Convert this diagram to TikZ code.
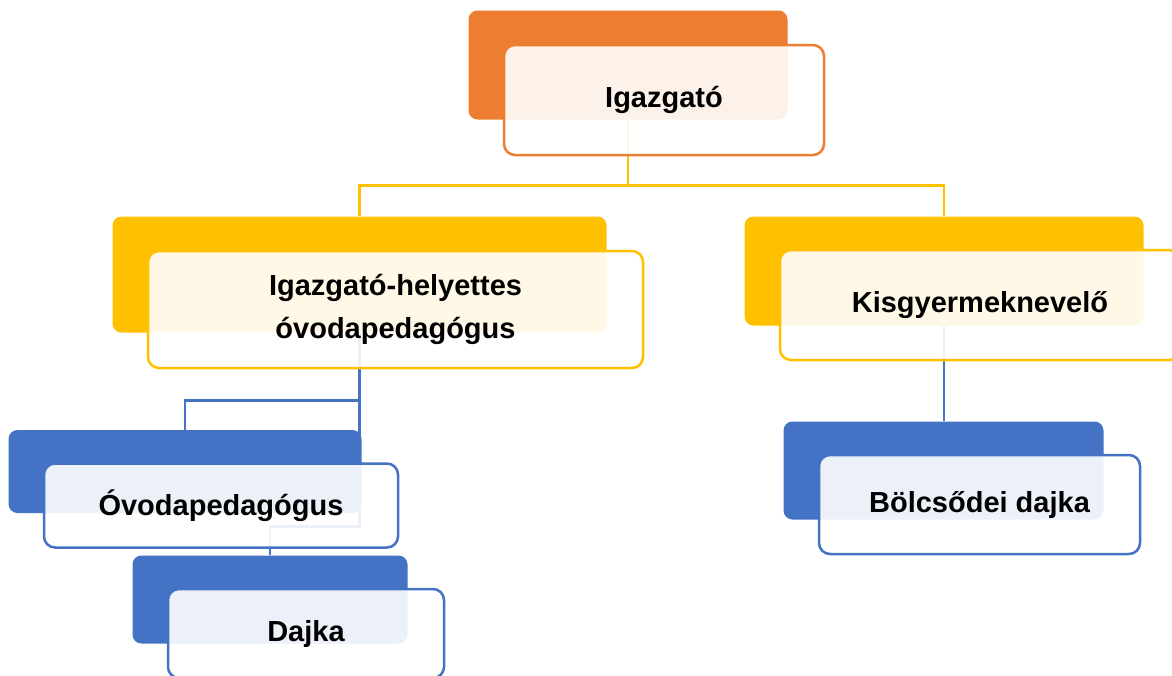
\documentclass[tikz,border=0pt]{standalone}
\usepackage{fontspec}
\setmainfont{Liberation Sans}
\usepackage{tikz}
\usetikzlibrary{positioning, backgrounds}

\definecolor{accorange}{HTML}{ED7D31}
\definecolor{accgold}{HTML}{FFC000}
\definecolor{accblue}{HTML}{4472C4}

\begin{document}
\begin{tikzpicture}[
        x=1pt, y=-1pt,
        backbox/.style={rectangle, rounded corners=9pt, fill=#1, draw=none, inner sep=0pt},
        frontbox/.style={rectangle, rounded corners=11pt, draw=#1, line width=2.5pt, fill=white, fill opacity=0.9, text opacity=1, inner sep=0pt, align=center, font=\fontsize{29}{43}\selectfont\bfseries},
        link/.style={line width=2.5pt}
    ]
    \clip (0,0) rectangle (1172,675);

    % Back boxes (solid colour)
    \node[backbox=accorange, minimum width=319pt, minimum height=109pt] (igB) at (628,65) {};
    \node[backbox=accgold, minimum width=494pt, minimum height=116pt] (dhB) at (359.5,274.5) {};
    \node[backbox=accgold, minimum width=399pt, minimum height=109pt] (kgB) at (944,271) {};
    \node[backbox=accblue, minimum width=353pt, minimum height=83pt] (opB) at (185,471.5) {};
    \node[backbox=accblue, minimum width=275pt, minimum height=88pt] (djB) at (270,599.5) {};
    \node[backbox=accblue, minimum width=320pt, minimum height=98pt] (bdB) at (943.5,470.5) {};

    % Front boxes with the texts
    \node[frontbox=accorange, minimum width=320pt, minimum height=110pt] (ig) at ([shift={(36,35)}]igB.center) {Igazgató};
    \node[frontbox=accgold, minimum width=495pt, minimum height=117pt] (dh) at ([shift={(36,35)}]dhB.center) {Igazgató-helyettes\\óvodapedagógus};
    \node[frontbox=accgold, minimum width=400pt, minimum height=110pt] (kg) at ([shift={(36,34)}]kgB.center) {Kisgyermeknevelő};
    \node[frontbox=accblue, minimum width=354pt, minimum height=84pt] (op) at ([shift={(36,34)}]opB.center) {Óvodapedagógus};
    \node[frontbox=accblue, minimum width=276pt, minimum height=89pt] (dj) at ([shift={(36,34)}]djB.center) {Dajka};
    \node[frontbox=accblue, minimum width=321pt, minimum height=99pt] (bd) at ([shift={(36,34)}]bdB.center) {Bölcsődei dajka};

    \begin{scope}[on background layer]
    % Connectors (level 1 to 2)
    \draw[link, accgold] (igB.south) -- ++(0,66) -| (dhB.north);
    \draw[link, accgold] (igB.south) -- ++(0,66) -| (kgB.north);

    % Connectors (level 2 to 3)
    \draw[link, accblue] (dhB.south) -- ++(0,68) -| (opB.north);
    \draw[link, accblue] (dhB.south) -- ++(0,194) -| (djB.north);
    \draw[link, accblue] (kgB.south) -- (kgB.south |- bdB.north);
    \end{scope}

\end{tikzpicture}
\end{document}
